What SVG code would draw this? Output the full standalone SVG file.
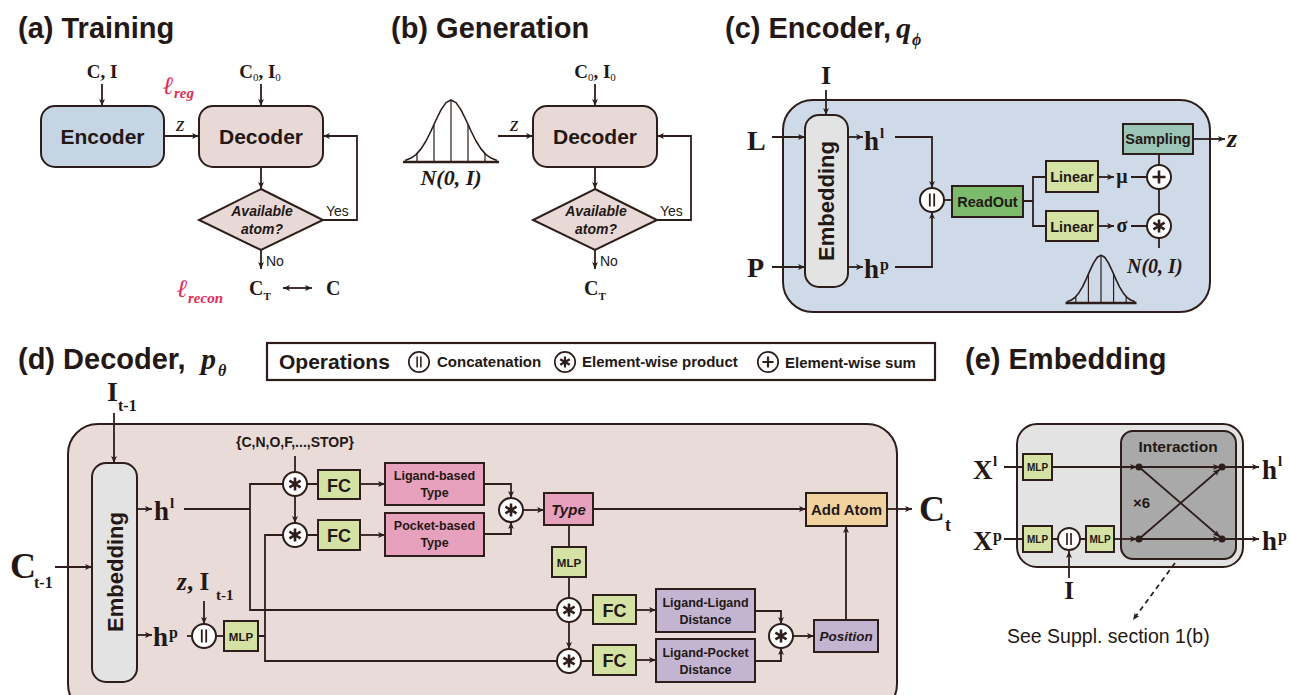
<svg xmlns="http://www.w3.org/2000/svg" width="1290" height="695" viewBox="0 0 1290 695">
<style>
.sb{font-family:"Liberation Sans",Arial,sans-serif;font-weight:bold;fill:#231815}
.sn{font-family:"Liberation Sans",Arial,sans-serif;fill:#231815}
.sr{font-family:"Liberation Serif","Times New Roman",serif;font-weight:bold;fill:#231815}
.si{font-family:"Liberation Serif","Times New Roman",serif;font-style:italic;fill:#231815}
.red{font-family:"Liberation Serif","Times New Roman",serif;font-style:italic;font-weight:bold;fill:#e12a55}
.bx{stroke:#2d1e1b;stroke-width:2}
.ln{fill:none;stroke:#2d1e1b;stroke-width:1.8}
.ar{marker-end:url(#ah)}
.grn{fill:#d4e2a3}
.pnk{fill:#e8a1bd}
.pur{fill:#c3b5d2}
</style>
<defs>
<marker id="ah" viewBox="0 0 10 10" refX="10" refY="5" markerWidth="7" markerHeight="7" markerUnits="userSpaceOnUse" orient="auto-start-reverse"><path d="M0,0.8 L10,5 L0,9.2 L2.5,5 z" fill="#2d1e1b"/></marker>
<g id="mul"><circle r="12" fill="#fff" stroke="#2d1e1b" stroke-width="2"/><path d="M0,-6.5V6.5M-5.6,-3.3L5.6,3.3M-5.6,3.3L5.6,-3.3" stroke="#2d1e1b" stroke-width="2.6"/></g>
<g id="add"><circle r="12" fill="#fff" stroke="#2d1e1b" stroke-width="2"/><path d="M-6.5,0H6.5M0,-6.5V6.5" stroke="#2d1e1b" stroke-width="2.6"/></g>
<g id="cat"><circle r="12" fill="#fff" stroke="#2d1e1b" stroke-width="2"/><path d="M-2.2,-6.5V6.5M2.2,-6.5V6.5" stroke="#2d1e1b" stroke-width="1.8"/></g>
<g id="bell" fill="none" stroke="#2d1e1b">
<path vector-effect="non-scaling-stroke" stroke-width="1.6" stroke-linejoin="round" d="M-46,-1.6 L-40,-3.9 L-35,-7.4 L-30,-13.1 L-25,-21 L-20,-31 L-15,-42 L-10,-52.1 L-5,-59.4 L0,-62 L5,-59.4 L10,-52.1 L15,-42 L20,-31 L25,-21 L30,-13.1 L35,-7.4 L40,-3.9 L46,-1.6"/>
<path vector-effect="non-scaling-stroke" stroke-width="1.2" d="M0,0V-62M-17,0V-37.6M17,0V-37.6M-34,0V-8.4M34,0V-8.4"/>
<path vector-effect="non-scaling-stroke" stroke-width="2.6" d="M-48,0H48"/>
</g>
</defs>
<rect width="1290" height="695" fill="#fff"/>

<!-- titles -->
<g id="titles">
<text x="18" y="38" class="sb" font-size="29">(a) Training</text>
<text x="391" y="38" class="sb" font-size="29">(b) Generation</text>
<text x="725" y="38" class="sb" font-size="29">(c) Encoder,</text>
<text x="896" y="38" class="si" font-weight="bold" font-size="30">q</text>
<text x="912" y="45" class="si" font-weight="bold" font-size="16">ϕ</text>
<text x="18" y="369" class="sb" font-size="29">(d) Decoder,</text>
<text x="201" y="369" class="si" font-weight="bold" font-size="30">p</text>
<text x="218" y="376" class="si" font-weight="bold" font-size="16">θ</text>
<text x="965" y="369" class="sb" font-size="29">(e) Embedding</text>
</g>

<!-- ===== Panel a ===== -->
<g id="a-encoder"><rect x="41" y="106" width="123" height="61" rx="14" fill="#c6d5e4" class="bx"/><text x="102.5" y="144" class="sb" font-size="21" text-anchor="middle">Encoder</text></g>
<g id="a-decoder"><rect x="199" y="106" width="124" height="61" rx="14" fill="#e9d9d6" class="bx"/><text x="261" y="144" class="sb" font-size="21" text-anchor="middle">Decoder</text></g>
<g id="a-check"><polygon points="261,189 323,220 261,250 199,220" fill="#e9d9d6" class="bx"/><text x="262" y="216" class="sb" font-style="italic" font-size="14" text-anchor="middle">Available</text><text x="262" y="234" class="sb" font-style="italic" font-size="14" text-anchor="middle">atom?</text></g>
<g id="a-labels">
<text x="102" y="78" class="sr" font-size="19" text-anchor="middle">C, I</text>
<text x="260" y="78" class="sr" font-size="19" text-anchor="middle">C<tspan font-size="11" font-weight="normal" dy="3">0</tspan><tspan dy="-3">, I</tspan><tspan font-size="11" font-weight="normal" dy="3">0</tspan></text>
<text x="176" y="131" class="si" font-size="22">z</text>
<text x="163" y="94" class="red" font-size="25">ℓ</text>
<text x="174" y="98" class="red" font-size="15">reg</text>
<text x="177" y="297" class="red" font-size="25">ℓ</text>
<text x="188" y="303" class="red" font-size="15">recon</text>
<text x="326" y="216" class="sn" font-size="14">Yes</text>
<text x="266" y="266" class="sn" font-size="14">No</text>
<text x="249" y="295" class="sr" font-size="20">C<tspan font-size="11" dy="5">T</tspan></text>
<text x="326" y="295" class="sr" font-size="20">C</text>
</g>

<!-- ===== Panel b ===== -->
<g id="b-prior"><use href="#bell" transform="translate(451,162)"/><text x="451" y="185" class="si" font-weight="bold" font-size="22" text-anchor="middle">N(0, I)</text></g>
<g id="b-decoder"><rect x="533" y="106" width="124" height="61" rx="14" fill="#e9d9d6" class="bx"/><text x="595" y="144" class="sb" font-size="21" text-anchor="middle">Decoder</text></g>
<g id="b-check"><polygon points="595,189 657,220 595,250 533,220" fill="#e9d9d6" class="bx"/><text x="596" y="216" class="sb" font-style="italic" font-size="14" text-anchor="middle">Available</text><text x="596" y="234" class="sb" font-style="italic" font-size="14" text-anchor="middle">atom?</text></g>
<g id="b-labels">
<text x="595" y="78" class="sr" font-size="19" text-anchor="middle">C<tspan font-size="11" font-weight="normal" dy="3">0</tspan><tspan dy="-3">, I</tspan><tspan font-size="11" font-weight="normal" dy="3">0</tspan></text>
<text x="510" y="131" class="si" font-size="22">z</text>
<text x="660" y="216" class="sn" font-size="14">Yes</text>
<text x="600" y="266" class="sn" font-size="14">No</text>
<text x="584" y="295" class="sr" font-size="20">C<tspan font-size="11" dy="5">T</tspan></text>
</g>

<!-- ===== Panel c ===== -->
<g id="c-frame"><rect x="783" y="100" width="427" height="212" rx="30" fill="#cfdae8" class="bx"/></g>
<g id="c-embedding"><rect x="805" y="115" width="43" height="172" rx="14" fill="#e3e3e3" class="bx"/><text transform="translate(834,201) rotate(-90)" class="sb" font-size="22" text-anchor="middle">Embedding</text></g>
<g id="c-labels">
<text x="826" y="84" class="sr" font-size="26" text-anchor="middle">I</text>
<text x="747" y="150" class="sr" font-size="28">L</text>
<text x="747" y="277" class="sr" font-size="28">P</text>
<text x="864" y="150" class="sr" font-size="27">h</text>
<text x="880" y="138" class="sr" font-size="15" font-weight="normal">l</text>
<text x="864" y="278" class="sr" font-size="27">h</text>
<text x="880" y="270" class="sr" font-size="16" font-weight="normal">p</text>
<text x="1122" y="183" class="sr" font-size="20" font-weight="normal" text-anchor="middle">μ</text>
<text x="1122" y="232" class="sr" font-size="20" font-weight="normal" text-anchor="middle">σ</text>
<text x="1227" y="147" class="si" font-weight="bold" font-size="26">z</text>
<text x="1127" y="273" class="si" font-weight="bold" font-size="20">N(0, I)</text>
</g>
<g id="c-prior"><use href="#bell" transform="translate(1101,303) scale(0.74,0.77)"/></g>
<g id="c-concat"><use href="#cat" x="932" y="200"/></g>
<g id="c-readout"><rect x="952" y="186" width="71" height="31" fill="#7cbb6c" class="bx"/><text x="987.5" y="206.5" class="sb" font-size="14.5" text-anchor="middle">ReadOut</text></g>
<g id="c-linear1"><rect x="1046" y="161" width="52" height="31" class="bx grn"/><text x="1072" y="182" class="sb" font-size="14.5" text-anchor="middle">Linear</text></g>
<g id="c-linear2"><rect x="1046" y="211" width="52" height="30" class="bx grn"/><text x="1072" y="231.5" class="sb" font-size="14.5" text-anchor="middle">Linear</text></g>
<g id="c-sampling"><rect x="1123" y="124" width="70" height="30" fill="#9bc6b7" class="bx"/><text x="1158" y="144" class="sb" font-size="14.5" text-anchor="middle">Sampling</text></g>
<g id="c-sum"><use href="#add" x="1159" y="177"/></g>
<g id="c-prod"><use href="#mul" x="1159" y="226"/></g>

<!-- ===== Panel d ===== -->
<g id="d-legend">
<rect x="267" y="343" width="668" height="37" fill="#fff" stroke="#2d1e1b" stroke-width="2.2"/>
<text x="279" y="369" class="sb" font-size="21">Operations</text>
<use href="#cat" transform="translate(419,362) scale(0.85)"/>
<text x="437" y="367" class="sb" font-size="15">Concatenation</text>
<use href="#mul" transform="translate(565,362) scale(0.85)"/>
<text x="582" y="367" class="sb" font-size="15">Element-wise product</text>
<use href="#add" transform="translate(768,362) scale(0.85)"/>
<text x="785" y="368" class="sb" font-size="15">Element-wise sum</text>
</g>
<g id="d-frame"><rect x="68" y="424" width="829" height="290" rx="30" fill="#e9dbd8" class="bx"/></g>
<g id="d-embedding"><rect x="92" y="463" width="45" height="219" rx="14" fill="#e3e3e3" class="bx"/><text transform="translate(122.5,572) rotate(-90)" class="sb" font-size="22" text-anchor="middle">Embedding</text></g>
<g id="d-labels">
<text x="107" y="401" class="sr" font-size="28">I</text>
<text x="118" y="411" class="sr" font-size="16">t-1</text>
<text x="10" y="578" class="sr" font-size="36">C</text>
<text x="34" y="588" class="sr" font-size="16">t-1</text>
<text x="154" y="520" class="sr" font-size="27">h</text>
<text x="170" y="508" class="sr" font-size="15" font-weight="normal">l</text>
<text x="153" y="646" class="sr" font-size="27">h</text>
<text x="169" y="638" class="sr" font-size="16" font-weight="normal">p</text>
<text x="177" y="590" class="si" font-weight="bold" font-size="25">z</text>
<text x="187" y="590" class="sr" font-size="25">, I</text>
<text x="216" y="600" class="sr" font-size="15">t-1</text>
<text x="295" y="447" class="sb" font-size="14" text-anchor="middle">{C,N,O,F,...,STOP}</text>
<text x="919" y="521" class="sr" font-size="36">C</text>
<text x="945" y="531" class="sr" font-size="18">t</text>
</g>
<g id="d-concat"><use href="#cat" x="204" y="636"/></g>
<g id="d-mlp1"><rect x="224" y="621" width="34" height="30" class="bx grn"/><text x="241" y="640.5" class="sb" font-size="11.5" text-anchor="middle">MLP</text></g>
<g id="d-mul1"><use href="#mul" x="295" y="484"/></g>
<g id="d-mul2"><use href="#mul" x="295" y="535"/></g>
<g id="d-fc1"><rect x="318" y="470" width="42" height="29" class="bx grn"/><text x="339" y="491.5" class="sb" font-size="18" text-anchor="middle">FC</text></g>
<g id="d-fc2"><rect x="318" y="520" width="42" height="30" class="bx grn"/><text x="339" y="542" class="sb" font-size="18" text-anchor="middle">FC</text></g>
<g id="d-ligtype"><rect x="385" y="463" width="99" height="42" class="bx pnk"/><text x="434.5" y="480" class="sb" font-size="12.5" text-anchor="middle">Ligand-based</text><text x="434.5" y="497" class="sb" font-size="12.5" text-anchor="middle">Type</text></g>
<g id="d-pocktype"><rect x="385" y="513" width="99" height="43" class="bx pnk"/><text x="434.5" y="530" class="sb" font-size="12.5" text-anchor="middle">Pocket-based</text><text x="434.5" y="547" class="sb" font-size="12.5" text-anchor="middle">Type</text></g>
<g id="d-mul4"><use href="#mul" x="511" y="510"/></g>
<g id="d-type"><rect x="544" y="493" width="49" height="32" class="bx pnk"/><text x="568.5" y="514.5" class="sb" font-style="italic" font-size="15" text-anchor="middle">Type</text></g>
<g id="d-addatom"><rect x="806" y="493" width="81" height="33" fill="#f2d3a0" class="bx"/><text x="846.5" y="514.5" class="sb" font-size="15" text-anchor="middle">Add Atom</text></g>
<g id="d-mlp2"><rect x="552" y="547" width="34" height="30" class="bx grn"/><text x="569" y="566.5" class="sb" font-size="11.5" text-anchor="middle">MLP</text></g>
<g id="d-mul3"><use href="#mul" x="569" y="610"/></g>
<g id="d-mul5"><use href="#mul" x="569" y="661"/></g>
<g id="d-fc3"><rect x="593" y="595" width="43" height="29" class="bx grn"/><text x="614.5" y="616.5" class="sb" font-size="18" text-anchor="middle">FC</text></g>
<g id="d-fc4"><rect x="593" y="645" width="43" height="30" class="bx grn"/><text x="614.5" y="667" class="sb" font-size="18" text-anchor="middle">FC</text></g>
<g id="d-lldist"><rect x="656" y="589" width="99" height="43" class="bx pur"/><text x="705.5" y="607" class="sb" font-size="12.5" text-anchor="middle">Ligand-Ligand</text><text x="705.5" y="624" class="sb" font-size="12.5" text-anchor="middle">Distance</text></g>
<g id="d-lpdist"><rect x="656" y="639" width="99" height="43" class="bx pur"/><text x="705.5" y="657" class="sb" font-size="12.5" text-anchor="middle">Ligand-Pocket</text><text x="705.5" y="674" class="sb" font-size="12.5" text-anchor="middle">Distance</text></g>
<g id="d-mul6"><use href="#mul" x="781" y="636"/></g>
<g id="d-position"><rect x="814" y="620" width="64" height="32" class="bx pur"/><text x="846" y="641" class="sb" font-style="italic" font-size="13.5" text-anchor="middle">Position</text></g>

<!-- ===== Panel e ===== -->
<g id="e-frame"><rect x="1017" y="424" width="226" height="143" rx="20" fill="#e3e3e3" class="bx"/></g>
<g id="e-interaction"><rect x="1121" y="431" width="115" height="128" rx="12" fill="#a9a9a9" class="bx"/><text x="1178" y="452" class="sb" font-size="15.5" text-anchor="middle">Interaction</text><text x="1133" y="508" class="sb" font-size="15">×6</text></g>
<g id="e-mlp1"><rect x="1023" y="454" width="29" height="26" class="bx grn"/><text x="1037.5" y="471" class="sb" font-size="10" text-anchor="middle">MLP</text></g>
<g id="e-mlp2"><rect x="1023" y="526" width="29" height="26" class="bx grn"/><text x="1037.5" y="543" class="sb" font-size="10" text-anchor="middle">MLP</text></g>
<g id="e-concat"><use href="#cat" transform="translate(1069,539) scale(0.92)"/></g>
<g id="e-mlp3"><rect x="1086" y="526" width="28" height="26" class="bx grn"/><text x="1100" y="543" class="sb" font-size="10" text-anchor="middle">MLP</text></g>
<g id="e-labels">
<text x="973" y="479" class="sr" font-size="27">X</text>
<text x="993" y="466" class="sr" font-size="15" font-weight="normal">l</text>
<text x="973" y="550" class="sr" font-size="27">X</text>
<text x="993" y="541" class="sr" font-size="16" font-weight="normal">p</text>
<text x="1262" y="479" class="sr" font-size="27">h</text>
<text x="1278" y="466" class="sr" font-size="15" font-weight="normal">l</text>
<text x="1262" y="550" class="sr" font-size="27">h</text>
<text x="1278" y="541" class="sr" font-size="16" font-weight="normal">p</text>
<text x="1069" y="599" class="sr" font-size="25" text-anchor="middle">I</text>
<text x="1007" y="643" class="sn" font-size="19.5">See Suppl. section 1(b)</text>
</g>

<!-- ===== connectors ===== -->
<g id="connectors" class="ln">
<path class="ar" d="M102,84V106"/>
<path class="ar" d="M164,136H199"/>
<path class="ar" d="M261,84V106"/>
<path class="ar" d="M261,167V189"/>
<path class="ar" d="M323,220H357V136H323"/>
<path class="ar" d="M261,250V269"/>
<path d="M283,288H312" style="marker-start:url(#ah);marker-end:url(#ah)"/>
<path class="ar" d="M498,136H533"/>
<path class="ar" d="M595,84V106"/>
<path class="ar" d="M595,167V189"/>
<path class="ar" d="M657,220H691V136H657"/>
<path class="ar" d="M595,250V269"/>
<path class="ar" d="M826,90V115"/>
<path class="ar" d="M772,137H805"/>
<path class="ar" d="M772,267H805"/>
<path class="ar" d="M848,137H863"/>
<path class="ar" d="M848,267H863"/>
<path class="ar" d="M895,137H932V188"/>
<path class="ar" d="M895,267H932V212"/>
<path d="M944,200H952"/>
<path d="M1023,201H1033M1046,177H1033V226H1046"/>
<path class="ar" d="M1098,177H1114"/>
<path class="ar" d="M1098,226H1114"/>
<path d="M1131,177H1147M1131,226H1147"/>
<path d="M1159,154V165M1159,189V214M1159,238V248"/>
<path class="ar" d="M1193,139H1225"/>
<path class="ar" d="M114,413V463"/>
<path class="ar" d="M55,567H92"/>
<path class="ar" d="M137,509H152"/>
<path class="ar" d="M137,635H152"/>
<path d="M184,509H250M283,484H250V610H557"/>
<path d="M187,636H192"/>
<path class="ar" d="M204,601V624"/>
<path d="M216,636H224"/>
<path d="M258,636H265M283,535H265V661H557"/>
<path d="M295,456V472"/>
<path class="ar" d="M295,496V523"/>
<path d="M307,484H318M307,535H318"/>
<path class="ar" d="M360,484H385"/>
<path class="ar" d="M360,535H385"/>
<path class="ar" d="M484,484H511V498"/>
<path class="ar" d="M484,534H511V522"/>
<path class="ar" d="M523,510H544"/>
<path class="ar" d="M593,509H806"/>
<path class="ar" d="M887,509H912"/>
<path d="M569,525V547M569,577V598"/>
<path class="ar" d="M569,622V649"/>
<path d="M581,610H593M581,661H593"/>
<path class="ar" d="M636,610H656"/>
<path class="ar" d="M636,660H656"/>
<path class="ar" d="M755,611H781V624"/>
<path class="ar" d="M755,661H781V648"/>
<path class="ar" d="M793,636H814"/>
<path class="ar" d="M846,620V526"/>
<path d="M1004,467H1023M1004,539H1023M1052,539H1058M1080,539H1086"/>
<path class="ar" d="M1052,467H1137"/>
<path class="ar" d="M1114,539H1137"/>
<path class="ar" d="M1139,467H1220"/>
<path class="ar" d="M1139,539H1220"/>
<path class="ar" d="M1139,467L1220,537"/>
<path class="ar" d="M1139,539L1220,469"/>
<path class="ar" d="M1222,467H1259"/>
<path class="ar" d="M1222,539H1259"/>
<path class="ar" d="M1069,578V551"/>
<path class="ar" d="M1175,563L1133,620" stroke-dasharray="5,4"/>
</g>
<g id="e-dots" fill="#2d1e1b"><circle cx="1139" cy="467" r="3.5"/><circle cx="1222" cy="467" r="3.5"/><circle cx="1139" cy="539" r="3.5"/><circle cx="1222" cy="539" r="3.5"/></g>
</svg>
